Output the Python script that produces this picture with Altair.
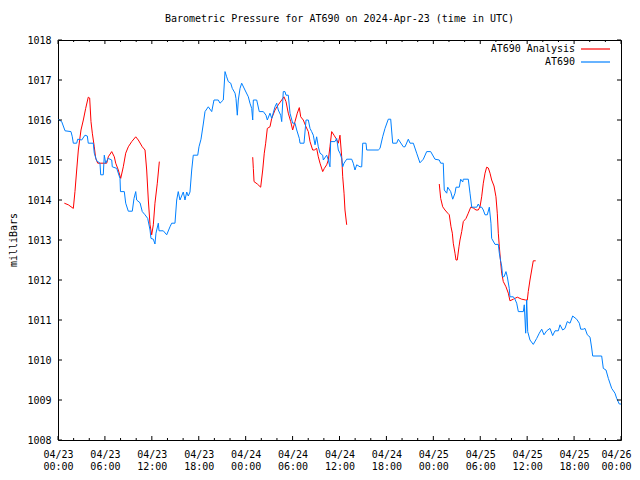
import altair as alt
import pandas as pd

START = pd.Timestamp("2024-04-23 00:00")

# AT690 observed pressure: hours after 2024-04-23 00:00 UTC, millibars
obs_hours = [0.0, 0.47, 0.90, 1.66, 1.83, 1.96, 2.39, 2.52, 3.03, 3.45, 3.75, 3.87, 4.51, 4.64, 4.95,
             5.37, 5.46, 5.79, 5.92, 6.10, 6.43, 6.87, 6.94, 7.51, 7.93, 7.99, 8.48, 8.66, 8.99, 9.50,
             9.72, 9.94, 10.06, 10.49, 10.78, 11.13, 11.47, 11.77, 11.89, 12.19, 12.40, 12.53, 12.83,
             12.92, 13.47, 13.90, 14.32, 14.54, 14.96, 15.18, 15.38, 15.60, 16.02, 16.24, 16.46, 16.66,
             16.88, 17.10, 17.30, 17.87, 18.03, 18.29, 18.58, 18.80, 19.22, 19.66, 19.95, 20.50, 20.72,
             21.14, 21.36, 21.57, 21.78, 22.09, 22.29, 22.64, 22.76, 22.93, 23.06, 23.28, 23.49, 23.91,
             24.34, 24.55, 24.77, 24.90, 24.98, 25.41, 25.74, 26.26, 26.60, 26.77, 27.11, 27.33, 27.75,
             27.97, 28.17, 28.48, 28.61, 28.81, 29.03, 29.16, 29.45, 29.67, 30.01, 30.31, 30.53, 30.86,
             30.95, 31.46, 31.72, 32.01, 32.23, 32.44, 32.65, 32.87, 33.08, 33.29, 33.51, 33.85, 33.93,
             34.36, 34.57, 34.78, 34.87, 35.42, 35.64, 35.85, 36.06, 36.28, 36.41, 36.58, 36.92, 37.56,
             37.76, 37.98, 38.20, 38.62, 38.84, 38.97, 39.39, 39.48, 40.96, 41.18, 41.52, 41.82, 42.24,
             42.55, 42.80, 43.31, 43.52, 44.16, 44.38, 44.80, 45.02, 45.44, 45.87, 46.29, 46.72, 47.15,
             47.66, 48.21, 48.76, 48.94, 49.27, 49.40, 49.71, 49.84, 50.22, 50.48, 50.77, 50.90, 51.32,
             51.50, 51.76, 51.83, 52.47, 52.69, 52.91, 53.55, 53.75, 53.97, 54.18, 54.39, 54.61, 54.90,
             55.16, 55.37, 55.46, 55.89, 56.31, 56.44, 56.62, 56.74, 56.87, 57.04, 57.29, 57.46, 57.71,
             57.80, 58.23, 58.44, 58.66, 58.87, 59.51, 59.63, 59.81, 59.94, 60.07, 60.36, 60.78, 61.22,
             61.55, 61.86, 62.15, 62.50, 62.92, 63.26, 63.56, 63.98, 64.20, 64.54, 64.84, 65.13, 65.48,
             65.82, 66.33, 66.67, 66.85, 67.18, 67.40, 67.69, 68.04, 68.25, 68.38, 69.53, 69.74, 70.08,
             70.38, 70.81, 71.23, 71.45, 71.78, 72.0]
obs_mb = [1016.02, 1015.96, 1015.73, 1015.71, 1015.58, 1015.42, 1015.42, 1015.52, 1015.50, 1015.62,
          1015.60, 1015.42, 1015.42, 1015.17, 1014.98, 1014.92, 1014.63, 1014.63, 1015.12, 1014.92,
          1015.04, 1015.00, 1014.83, 1014.79, 1014.54, 1014.21, 1014.21, 1013.92, 1013.72, 1013.72,
          1014.04, 1014.21, 1014.00, 1013.93, 1013.71, 1013.63, 1013.54, 1013.25, 1013.04, 1013.02,
          1012.90, 1013.17, 1013.42, 1013.23, 1013.23, 1013.13, 1013.33, 1013.42, 1013.42, 1014.00,
          1014.21, 1014.00, 1014.20, 1014.00, 1014.20, 1014.10, 1014.20, 1014.75, 1015.12, 1015.12,
          1015.33, 1015.52, 1015.90, 1016.21, 1016.33, 1016.21, 1016.50, 1016.50, 1016.42, 1016.50,
          1017.21, 1017.08, 1016.96, 1016.92, 1016.79, 1016.67, 1016.54, 1016.12, 1016.50, 1016.79,
          1016.92, 1016.75, 1016.58, 1016.42, 1016.29, 1016.00, 1016.50, 1016.50, 1016.21, 1016.21,
          1016.12, 1016.00, 1016.17, 1016.04, 1016.33, 1016.42, 1016.25, 1016.12, 1015.96, 1016.71,
          1016.71, 1016.62, 1016.62, 1016.17, 1015.92, 1015.92, 1015.75, 1015.54, 1015.42, 1015.42,
          1016.00, 1016.00, 1015.79, 1015.71, 1015.62, 1015.38, 1015.58, 1015.33, 1015.17, 1015.12,
          1015.00, 1015.12, 1015.00, 1014.83, 1015.46, 1015.46, 1015.54, 1015.25, 1015.17, 1015.04,
          1014.83, 1014.92, 1015.02, 1015.02, 1014.92, 1014.75, 1014.88, 1014.83, 1014.83, 1015.42,
          1015.42, 1015.25, 1015.25, 1015.29, 1015.58, 1015.79, 1016.02, 1016.02, 1015.42, 1015.42,
          1015.52, 1015.33, 1015.33, 1015.52, 1015.42, 1015.42, 1015.17, 1014.93, 1015.02, 1015.21,
          1015.21, 1015.02, 1015.00, 1014.92, 1014.92, 1014.25, 1014.17, 1014.32, 1014.21, 1014.02,
          1014.17, 1014.32, 1014.32, 1014.52, 1014.45, 1014.52, 1014.52, 1014.17, 1013.82, 1013.82,
          1013.90, 1013.82, 1013.82, 1013.75, 1013.63, 1013.63, 1013.82, 1013.42, 1013.04, 1012.89,
          1012.89, 1012.67, 1012.46, 1012.35, 1012.08, 1012.08, 1012.21, 1012.08, 1011.79, 1011.58,
          1011.58, 1011.52, 1011.42, 1011.21, 1011.21, 1011.38, 1010.67, 1011.50, 1010.71, 1010.50,
          1010.39, 1010.54, 1010.67, 1010.77, 1010.63, 1010.73, 1010.79, 1010.61, 1010.73, 1010.73,
          1010.88, 1010.75, 1010.79, 1010.96, 1010.92, 1011.10, 1011.02, 1010.92, 1010.77, 1010.77,
          1010.79, 1010.63, 1010.57, 1010.30, 1010.10, 1010.10, 1009.79, 1009.75, 1009.54, 1009.29,
          1009.17, 1009.04, 1008.90, 1008.90]

# AT690 Analysis: three separate runs
ana1_hours = [0.81, 1.32, 1.96, 2.17, 2.39, 2.60, 2.94, 3.24, 3.54, 3.87, 4.05, 4.22, 4.39, 4.64, 4.82,
              5.08, 6.23, 6.43, 6.87, 7.20, 7.38, 7.71, 8.02, 8.35, 8.66, 8.99, 9.43, 9.94, 10.27,
              10.78, 11.13, 11.34, 11.55, 11.77, 11.98, 12.19, 12.40, 12.70, 12.96]
ana1_mb = [1013.92, 1013.88, 1013.79, 1014.21, 1014.75, 1015.25, 1015.75, 1016.00, 1016.29, 1016.57,
           1016.55, 1015.96, 1015.67, 1015.33, 1015.04, 1014.92, 1014.92, 1015.08, 1015.21, 1015.08,
           1014.92, 1014.75, 1014.54, 1014.83, 1015.17, 1015.33, 1015.46, 1015.58, 1015.50, 1015.33,
           1015.25, 1014.75, 1014.00, 1013.38, 1013.13, 1013.38, 1013.92, 1014.42, 1014.96]
ana2_hours = [24.90, 24.98, 25.07, 25.49, 25.92, 26.18, 26.38, 26.56, 26.77, 27.11, 27.33, 27.75, 28.17,
              28.61, 28.90, 29.16, 29.45, 29.76, 30.01, 30.31, 30.60, 30.86, 31.04, 31.37, 31.72, 32.01,
              32.23, 32.57, 32.78, 33.08, 33.29, 33.51, 33.85, 34.06, 34.36, 34.57, 34.78, 35.00, 35.30,
              35.55, 35.85, 36.06, 36.28, 36.41, 36.58, 36.70, 36.92]
ana2_mb = [1015.07, 1014.79, 1014.46, 1014.40, 1014.32, 1014.75, 1015.17, 1015.42, 1015.79, 1015.83,
           1016.04, 1016.25, 1016.38, 1016.50, 1016.58, 1016.46, 1016.17, 1015.96, 1015.75, 1015.96,
           1016.17, 1016.31, 1016.08, 1016.00, 1015.83, 1015.71, 1015.46, 1015.25, 1015.25, 1015.29,
           1015.08, 1014.92, 1014.71, 1014.79, 1014.88, 1015.00, 1015.33, 1015.71, 1015.62, 1015.54,
           1015.42, 1015.62, 1015.08, 1014.58, 1014.17, 1013.75, 1013.38]
ana3_hours = [48.76, 48.94, 49.20, 49.49, 49.84, 50.04, 50.26, 50.43, 50.55, 50.77, 50.90, 51.06, 51.28,
              51.41, 51.63, 51.83, 52.18, 52.47, 52.78, 53.11, 53.46, 53.75, 53.97, 54.18, 54.39, 54.61,
              54.82, 55.03, 55.25, 55.46, 55.76, 56.01, 56.18, 56.31, 56.44, 56.62, 56.74, 56.95, 57.29,
              57.59, 57.80, 58.23, 58.74, 59.30, 59.81, 60.02, 60.14, 60.36, 60.58, 60.78, 61.09]
ana3_mb = [1014.40, 1014.04, 1013.83, 1013.75, 1013.67, 1013.63, 1013.33, 1013.17, 1012.92, 1012.67,
           1012.50, 1012.50, 1012.83, 1013.00, 1013.21, 1013.46, 1013.54, 1013.67, 1013.82, 1013.80,
           1013.75, 1013.75, 1013.83, 1014.08, 1014.42, 1014.67, 1014.82, 1014.80, 1014.67, 1014.50,
           1014.35, 1014.08, 1013.67, 1013.17, 1012.83, 1012.42, 1012.17, 1011.96, 1011.83, 1011.67,
           1011.48, 1011.52, 1011.57, 1011.52, 1011.50, 1011.50, 1011.71, 1012.00, 1012.25, 1012.48,
           1012.48]

y_ticks = [1008, 1009, 1010, 1011, 1012, 1013, 1014, 1015, 1016, 1017, 1018]
major_tick_hours = list(range(0, 73, 6))
minor_tick_hours = [h for h in range(0, 73, 2) if h % 6 != 0]
legend_names = ["AT690 Analysis", "AT690"]

TITLE = "Barometric Pressure for AT690 on 2024-Apr-23 (time in UTC)"
FONT = "DejaVu Sans Mono"
RED = "#ff0000"
BLUE = "#0080ff"
W, H = 563, 400


def to_iso(hours):
    ts = START + pd.to_timedelta(pd.Series(hours, dtype=float), unit="h")
    return ts.dt.strftime("%Y-%m-%dT%H:%M:%SZ")


obs = pd.DataFrame({"t": to_iso(obs_hours), "p": obs_mb})
ana = pd.concat([
    pd.DataFrame({"t": to_iso(h), "p": p, "seg": i})
    for i, (h, p) in enumerate([(ana1_hours, ana1_mb), (ana2_hours, ana2_mb), (ana3_hours, ana3_mb)])
], ignore_index=True)
major_df = pd.DataFrame({"t": to_iso(major_tick_hours)})
minor_df = pd.DataFrame({"t": to_iso(minor_tick_hours)})
ytick_df = pd.DataFrame({"p": y_ticks})

x_scale = alt.Scale(type="utc", domain=["2024-04-23T00:00:00Z", "2024-04-26T00:00:00Z"])
y_scale = alt.Scale(domain=[1008, 1018], nice=False, zero=False)

x_values = [alt.DateTime(year=2024, month=4, date=23 + h // 24, hours=h % 24, utc=True)
            for h in major_tick_hours]
last_ms = int((START + pd.Timedelta(hours=72)).value // 1_000_000)

x_axis = alt.Axis(values=x_values, title=None, grid=False, domain=False, tickSize=0,
                  labelExpr="[utcFormat(datum.value, '%m/%d'), utcFormat(datum.value, '%H:%M')]",
                  labelFont=FONT, labelFontSize=10, labelColor="black", labelPadding=9,
                  labelLineHeight=12, labelBaseline="top", labelFlush=False, labelOverlap=False,
                  labelOffset=alt.ConditionalAxisNumber(
                      condition={"test": f"datum.value >= {last_ms}", "value": -5}, value=0))
y_axis = alt.Axis(values=y_ticks, title=None, grid=False, domain=False, tickSize=0,
                  labelFont=FONT, labelFontSize=10, labelColor="black", labelPadding=7,
                  labelOverlap=False, labelFlush=False, format="d")

# every layer carries the same axis definition so the merged axis keeps it
XENC = alt.X("t:T", scale=x_scale, axis=x_axis)
YENC = alt.Y("p:Q", scale=y_scale, axis=y_axis)

red_line = alt.Chart(ana).mark_line(color=RED, strokeWidth=1).encode(
    x=XENC, y=YENC, detail="seg:N")
blue_line = alt.Chart(obs).mark_line(color=BLUE, strokeWidth=1).encode(x=XENC, y=YENC)


def xticks(df, length):
    bottom = alt.Chart(df).mark_rule(color="black", strokeWidth=1).encode(
        x=XENC, y=alt.value(H), y2=alt.value(H - length))
    top = alt.Chart(df).mark_rule(color="black", strokeWidth=1).encode(
        x=XENC, y=alt.value(0), y2=alt.value(length))
    return [bottom, top]


left_ticks = alt.Chart(ytick_df).mark_rule(color="black", strokeWidth=1).encode(
    y=YENC, x=alt.value(0), x2=alt.value(4))
right_ticks = alt.Chart(ytick_df).mark_rule(color="black", strokeWidth=1).encode(
    y=YENC, x=alt.value(W), x2=alt.value(W - 4))

title = alt.Chart(pd.DataFrame({"s": [TITLE]})).mark_text(
    font=FONT, fontSize=10, color="black", align="center", baseline="middle").encode(
    text="s:N", x=alt.value(W / 2), y=alt.value(-21))
ylabel = alt.Chart(pd.DataFrame({"s": ["milliBars"]})).mark_text(
    font=FONT, fontSize=10, color="black", align="center", baseline="middle", angle=270).encode(
    text="s:N", x=alt.value(-44), y=alt.value(H / 2))

legend_layers = []
for name, color, ypos in zip(legend_names, [RED, BLUE], [9, 22]):
    df = pd.DataFrame({"name": [name]})
    legend_layers.append(alt.Chart(df).mark_text(
        font=FONT, fontSize=10, color="black", align="right", baseline="middle").encode(
        text="name:N", x=alt.value(517), y=alt.value(ypos)))
    legend_layers.append(alt.Chart(df).mark_rule(color=color, strokeWidth=1.2).encode(
        x=alt.value(523), x2=alt.value(552), y=alt.value(ypos)))

chart = alt.layer(
    red_line, blue_line,
    *xticks(major_df, 4), *xticks(minor_df, 2), left_ticks, right_ticks,
    title, ylabel, *legend_layers,
).properties(
    width=W, height=H,
    autosize=alt.AutoSizeParams(type="none"),
    padding={"left": 50, "top": 32, "right": 11, "bottom": 32},
    background="white",
).configure_view(stroke="black", strokeWidth=1)

chart.save("out.html", embed_options={"renderer": "svg", "actions": False})
